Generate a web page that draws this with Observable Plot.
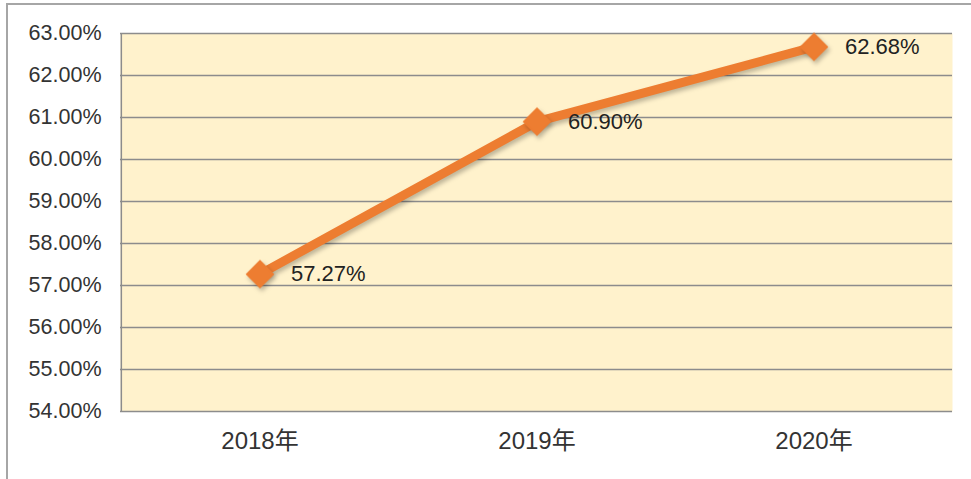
<!DOCTYPE html>
<html>
<head>
<meta charset="utf-8">
<script src="https://cdn.jsdelivr.net/npm/d3@7"></script>
<script src="https://cdn.jsdelivr.net/npm/@observablehq/plot@0.6"></script>
<style>
  html, body { margin: 0; padding: 0; background: #fff; }
  #wrap { position: relative; width: 971px; height: 479px; overflow: hidden; }
  #border { position: absolute; left: 6px; top: 3px; right: -10px; bottom: -10px; border-left: 2px solid #a6a6a6; border-top: 2px solid #a6a6a6; pointer-events: none; }
  svg { display: block; }
  .shadowed { filter: drop-shadow(2px 3px 2px rgba(0,0,0,0.25)); }
</style>
</head>
<body>
<div id="wrap"><div id="border"></div></div>
<script>
const years = ["2018年", "2019年", "2020年"];
const values = [57.27, 60.90, 62.68];
const labels = ["57.27%", "60.90%", "62.68%"];
const yTicks = [54, 55, 56, 57, 58, 59, 60, 61, 62, 63];

const data = years.map((y, i) => ({year: y, value: values[i], label: labels[i]}));
const halfBand = (971 - 120 - 19) / years.length / 2;

const chart = Plot.plot({
  width: 971,
  height: 479,
  marginLeft: 120,
  marginRight: 19,
  marginTop: 33,
  marginBottom: 68,
  style: {fontFamily: "'Liberation Sans', 'Noto Sans CJK SC', sans-serif", background: "transparent", color: "#333"},
  x: {type: "band", domain: years, padding: 0, label: null, tickSize: 0},
  y: {domain: [54, 63], label: null, tickSize: 0},
  marks: [
    Plot.frame({fill: "#fff2cc", stroke: null}),
    Plot.ruleY(yTicks, {stroke: "#8c8c8c", strokeWidth: 1.5}),
    Plot.ruleX([years[0]], {stroke: "#8c8c8c", strokeWidth: 1.5, dx: -halfBand}),
    Plot.line(data, {x: "year", y: "value", stroke: "#ed7d31", strokeWidth: 9, strokeLinejoin: "round", className: "shadowed"}),
    Plot.dot(data, {x: "year", y: "value", symbol: "diamond2", r: 12, fill: "#ed7d31", stroke: "#ed7d31", className: "shadowed"}),
    Plot.text(data, {x: "year", y: "value", text: "label", textAnchor: "start", dx: 31, fontSize: 22, fill: "#222"}),
    Plot.axisX({tickSize: 0, tickPadding: 20, fontSize: 24, fill: "#333"}),
    Plot.axisY({ticks: yTicks, tickFormat: d => d.toFixed(2) + "%", tickSize: 0, tickPadding: 19, fontSize: 21.5, fill: "#333"})
  ]
});
document.getElementById("wrap").appendChild(chart);
</script>
</body>
</html>
